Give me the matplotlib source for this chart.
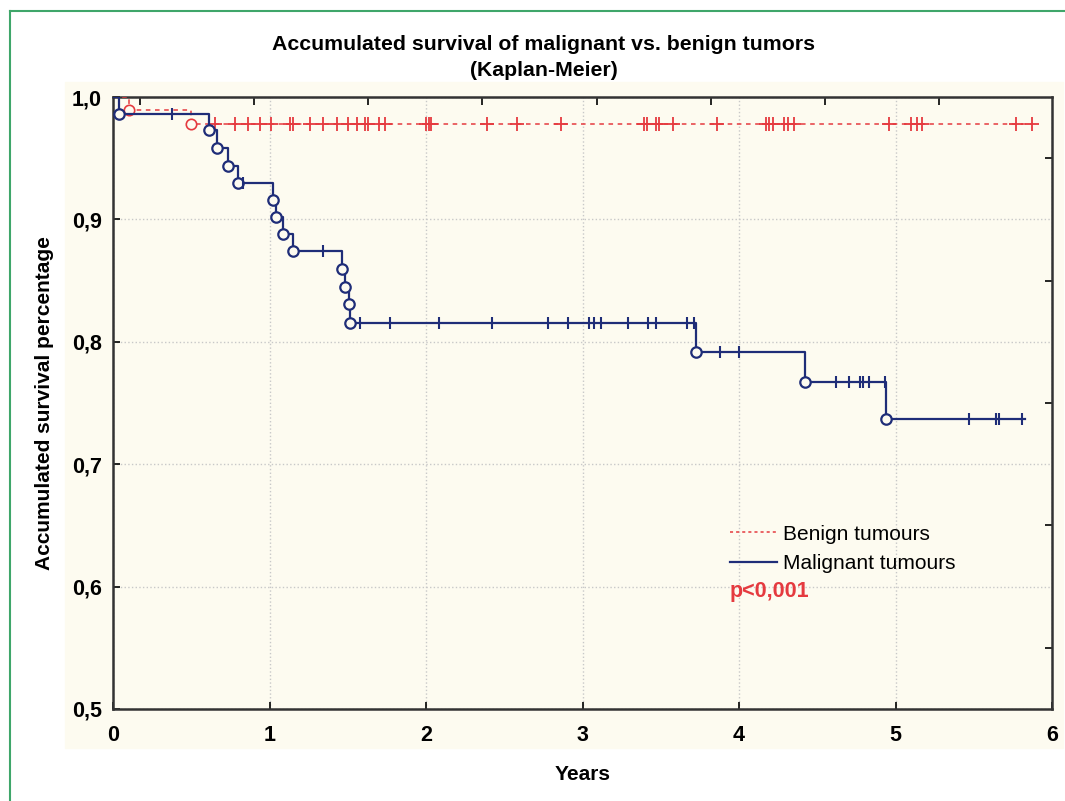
import matplotlib.pyplot as plt
import numpy as np
from matplotlib.lines import Line2D
from matplotlib.patches import Rectangle

plt.rcParams['font.family'] = ['Liberation Sans', 'DejaVu Sans']

# benign tumours: event times and survival after each event
ben_t = [0.10, 0.50]
ben_s = [0.989, 0.978]
ben_end = 5.87
ben_cens = [0.65, 0.78, 0.865, 0.94, 1.01, 1.13, 1.15, 1.26, 1.34, 1.43, 1.50,
            1.56, 1.61, 1.63, 1.70, 1.74, 2.00, 2.02, 2.03, 2.39, 2.58, 2.86,
            3.39, 3.41, 3.47, 3.49, 3.58, 3.86, 4.17, 4.19, 4.22, 4.29, 4.31,
            4.35, 4.96, 5.10, 5.135, 5.17, 5.77, 5.87]

# malignant tumours
mal_t = [0.04, 0.615, 0.667, 0.737, 0.797, 1.02, 1.04, 1.084, 1.152, 1.465,
         1.482, 1.505, 1.515, 3.725, 4.42, 4.94]
mal_s = [0.986, 0.973, 0.9586, 0.944, 0.930, 0.916, 0.902, 0.888, 0.874,
         0.8595, 0.845, 0.8306, 0.8156, 0.7914, 0.7674, 0.7366]
mal_end = 5.83
mal_cens = [0.375, 0.83, 1.34, 1.578, 1.77, 2.08, 2.42, 2.78, 2.91, 3.04, 3.075,
            3.12, 3.29, 3.42, 3.47, 3.665, 3.71, 3.88, 4.0, 4.62, 4.70, 4.77,
            4.79, 4.83, 4.93, 5.47, 5.64, 5.66, 5.81]

x_ticks = [0, 1, 2, 3, 4, 5, 6]
y_ticks = [0.5, 0.6, 0.7, 0.8, 0.9, 1.0]
y_labels = ['0,5', '0,6', '0,7', '0,8', '0,9', '1,0']
top_ticks = [0.17, 0.90, 1.63, 2.36, 3.09, 3.82, 4.55, 5.28]
right_ticks = [0.55, 0.65, 0.75, 0.85, 0.95]

red = '#e53a3f'
blue = '#1f2d78'
cream = '#fdfbf0'


def km_curve(t, s, end):
    xs = np.concatenate([[0], t, [end]])
    ys = np.concatenate([[1.0], s, [s[-1]]])
    return xs, ys


def km_at(t, s, x):
    idx = np.searchsorted(t, x, side='right') - 1
    vals = np.concatenate([[1.0], s])
    return vals[np.array(idx) + 1]


fig = plt.figure(figsize=(10.65, 8.01), dpi=100)
fig.patches.append(Rectangle((65 / 1065, 53 / 801), 998 / 1065, 666 / 801,
                             transform=fig.transFigure, color=cream, zorder=-5))
fig.lines.append(Line2D([10 / 1065, 1], [790 / 801, 790 / 801], transform=fig.transFigure,
                        color='#3fa66a', lw=1.5))
fig.lines.append(Line2D([10 / 1065, 10 / 1065], [0, 790 / 801], transform=fig.transFigure,
                        color='#3fa66a', lw=1.5))

ax = fig.add_axes([113 / 1065, 92 / 801, 939 / 1065, 612 / 801])
ax.set_facecolor(cream)

bx, by = km_curve(ben_t, ben_s, ben_end)
ax.plot(bx, by, drawstyle='steps-post', color=red, lw=1.1, ls=(0, (3, 3)), zorder=3)
ax.plot(ben_t, ben_s, 'o', ms=7.5, mfc=cream, mec=red, mew=1.2, zorder=4)
ax.plot(ben_cens, km_at(ben_t, ben_s, ben_cens), '+', ms=10, mew=1.3, color=red, zorder=4)

mx, my = km_curve(mal_t, mal_s, mal_end)
ax.plot(mx, my, drawstyle='steps-post', color=blue, lw=1.6, zorder=5)
ax.plot(mal_t, mal_s, 'o', ms=7.5, mfc=cream, mec=blue, mew=1.6, zorder=6)
ax.plot(mal_cens, km_at(mal_t, mal_s, mal_cens), '|', ms=9, mew=1.5, color=blue, zorder=6)

ax.set_xlim(0, 6)
ax.set_ylim(0.5, 1.0)
ax.set_xticks(x_ticks)
ax.set_xticklabels([str(v) for v in x_ticks], fontsize=15.5, fontweight='bold')
ax.set_yticks(y_ticks)
ax.set_yticklabels(y_labels, fontsize=15.5, fontweight='bold')
ax.set_yticks(right_ticks, minor=True)
ax.tick_params(which='major', direction='in', length=5, width=1.2, pad=8)
ax.tick_params(axis='x', which='major', pad=11.5)
ax.tick_params(axis='y', which='minor', direction='in', length=5, width=1.2,
               left=False, right=True)
ax.tick_params(axis='x', which='major', top=False)
ax.grid(True, which='major', color='#c8c8c8', ls=':', lw=1.0)
for sp in ax.spines.values():
    sp.set_color('#333333')
    sp.set_linewidth(1.8)

top = ax.secondary_xaxis('top')
top.set_xticks(top_ticks)
top.set_xticklabels([])
top.tick_params(direction='in', length=6, width=1.2)
top.spines['top'].set_visible(False)

ax.set_xlabel('Years', fontsize=15, fontweight='bold', labelpad=14)
ax.set_ylabel('Accumulated survival percentage', fontsize=15, fontweight='bold', labelpad=13)
fig.text(544 / 1065, 757 / 801, 'Accumulated survival of malignant vs. benign tumors',
         ha='center', va='center', fontsize=15.3, fontweight='bold')
fig.text(544 / 1065, 730 / 801, '(Kaplan-Meier)', ha='center', va='center',
         fontsize=15.3, fontweight='bold')

handles = [Line2D([], [], color=red, lw=1.1, ls=(0, (2, 2))),
           Line2D([], [], color=blue, lw=1.6)]
ax.legend(handles, ['Benign tumours', 'Malignant tumours'], loc='upper left',
          bbox_to_anchor=(0.637, 0.332), frameon=False, fontsize=15,
          handlelength=2.25, handletextpad=0.3, labelspacing=0.5)
ax.text(0.657, 0.192, 'p<0,001', transform=ax.transAxes, color=red,
        fontsize=15.5, fontweight='bold', va='center')

fig.savefig('out.png', dpi=100)
